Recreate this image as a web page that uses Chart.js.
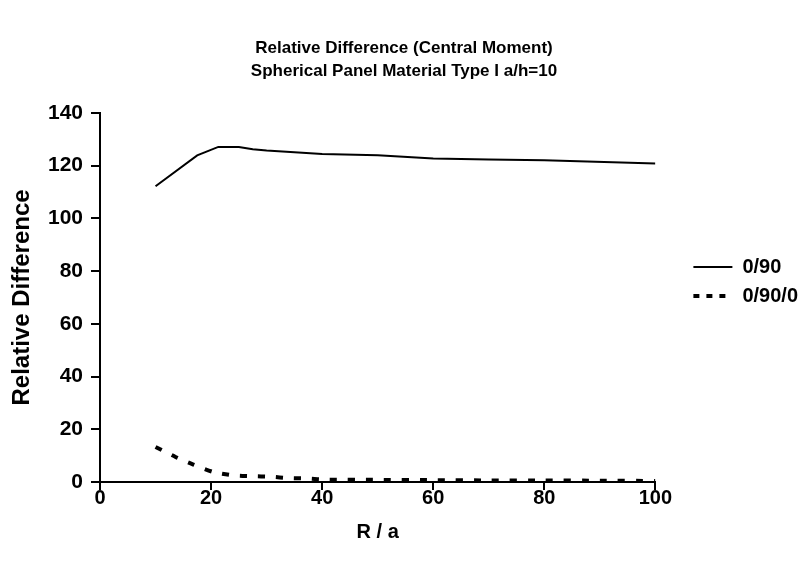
<!DOCTYPE html>
<html lang="en">
<head>
<meta charset="UTF-8" />
<title>Relative Difference (Central Moment)</title>
<script src="https://cdn.jsdelivr.net/npm/chart.js"></script>
<style>
  body { margin: 0; background: #fff; }
</style>
</head>
<body>
<canvas id="chart" width="801" height="563"></canvas>
<script>
// values (R / a against relative difference)
const rA_090 = [10, 17.5, 21.3, 25, 27.5, 30, 40, 50, 60, 70, 80, 100];
const diff_090 = [112.2, 123.9, 127.1, 127.1, 126.2, 125.7, 124.4, 123.9, 122.7, 122.3, 122.0, 120.8];

const rA_09000 = [10, 13.6, 16.8, 20.4, 24, 27.3, 30.7, 34, 37.5, 40.8, 50, 60, 70, 80, 90, 100];
const diff_09000 = [13.3, 9.5, 6.6, 3.8, 2.5, 2.2, 2.0, 1.5, 1.3, 0.9, 0.8, 0.7, 0.6, 0.6, 0.5, 0.4];

const seriesLabels = ['0/90', '0/90/0'];
const titleLines = ['Relative Difference (Central Moment)', 'Spherical Panel Material Type I a/h=10'];

const bold = (size, lineHeight) => ({ family: 'Liberation Sans, Arial, sans-serif', size, weight: 'bold', lineHeight: lineHeight || 1.2 });
const pts = (xs, ys) => xs.map((x, i) => ({ x, y: ys[i] }));

// legend samples: keep the series line width, shorter dashes like the original key
const legendLabels = chart =>
  Chart.defaults.plugins.legend.labels.generateLabels(chart).map((item, i) => {
    const ds = chart.data.datasets[i];
    return Object.assign(item, {
      lineWidth: ds.borderWidth,
      lineDash: ds.borderDash ? [6, 7] : []
    });
  });

new Chart(document.getElementById('chart'), {
  type: 'line',
  data: {
    datasets: [
      {
        label: seriesLabels[0],
        data: pts(rA_090, diff_090),
        borderColor: '#000',
        borderWidth: 2,
        pointRadius: 0,
        tension: 0,
        fill: false
      },
      {
        label: seriesLabels[1],
        data: pts(rA_09000, diff_09000),
        borderColor: '#000',
        borderWidth: 4,
        borderDash: [7, 11],
        pointRadius: 0,
        tension: 0.2,
        fill: false
      }
    ]
  },
  options: {
    responsive: false,
    animation: false,
    layout: { padding: { left: 0, right: -7, top: 0, bottom: 0 } },
    plugins: {
      title: {
        display: true,
        text: titleLines,
        color: '#000',
        font: bold(17, 1.35),
        padding: { top: 37, bottom: 30 }
      },
      legend: {
        position: 'right',
        labels: {
          usePointStyle: true,
          pointStyle: 'line',
          pointStyleWidth: 39,
          color: '#000',
          font: bold(20),
          padding: 9,
          generateLabels: legendLabels
        }
      },
      tooltip: { enabled: false }
    },
    scales: {
      x: {
        type: 'linear',
        min: 0,
        max: 100,
        ticks: { stepSize: 20, color: '#000', font: bold(20), padding: -4 },
        grid: { drawOnChartArea: false, color: '#000', lineWidth: 2, tickLength: 8 },
        border: { color: '#000', width: 2 },
        title: { display: true, text: 'R / a', color: '#000', font: bold(20), padding: { top: 4, bottom: 19 } },
        afterFit: s => { s.height = 81; }
      },
      y: {
        min: 0,
        max: 140,
        ticks: { stepSize: 20, color: '#000', font: bold(21), padding: 8 },
        grid: { drawOnChartArea: false, color: '#000', lineWidth: 2, tickLength: 9 },
        border: { color: '#000', width: 2 },
        title: { display: true, text: 'Relative Difference', color: '#000', font: bold(24), padding: { top: 8, bottom: 0 } },
        afterFit: s => { s.width = 100; }
      },
      // empty spacer between plot and legend
      gap: {
        position: 'right',
        display: true,
        grid: { display: false },
        border: { display: false },
        ticks: { display: false },
        afterFit: s => { s.width = 29; }
      }
    }
  }
});
</script>
</body>
</html>
